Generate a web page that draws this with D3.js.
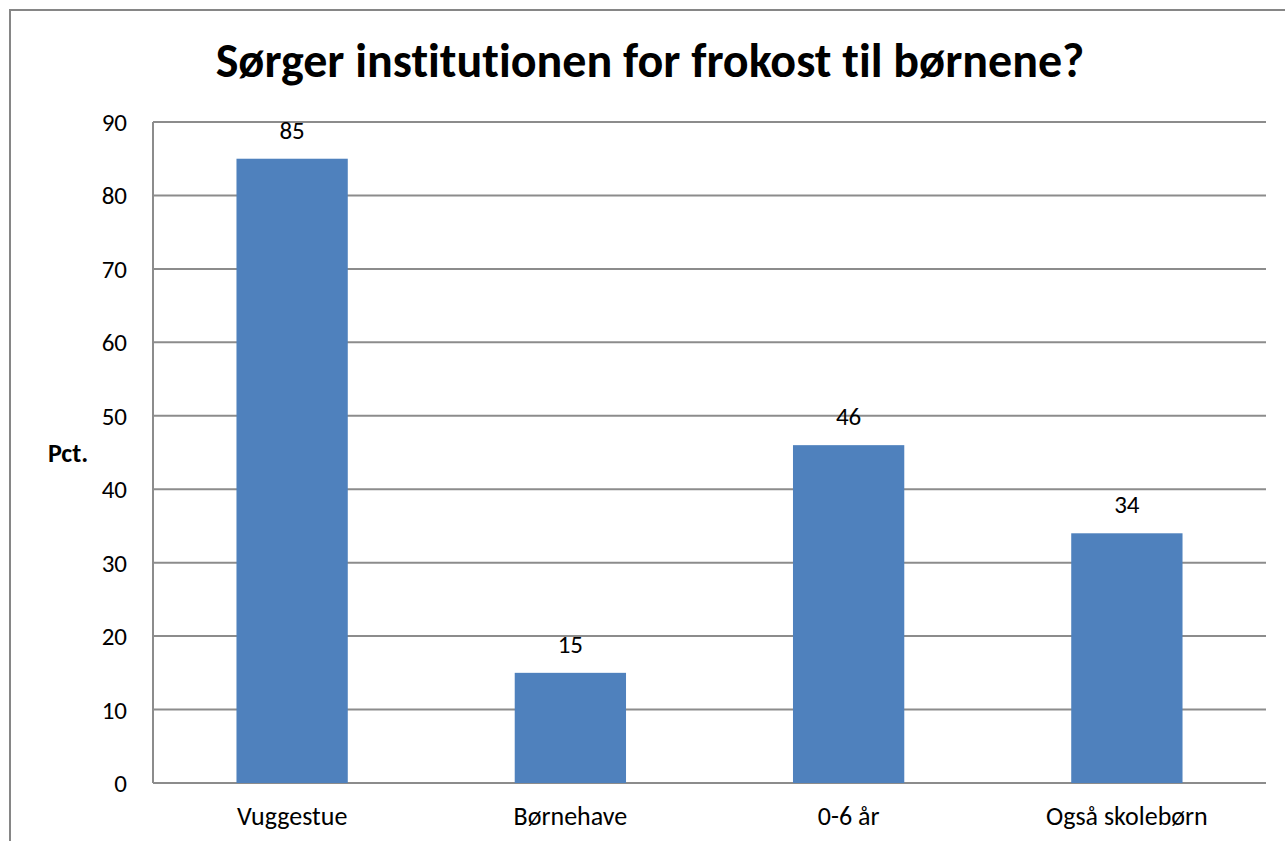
<!DOCTYPE html>
<html>
<head>
<meta charset="utf-8">
<script src="https://cdn.jsdelivr.net/npm/d3@7"></script>
<style>
  body { margin: 0; background: #fff; }
  text { font-family: Calibri, Carlito, Lato, "Noto Sans", sans-serif; fill: #000; font-variant-ligatures: none; }
</style>
</head>
<body>
<script>
// chart data
var categories = ['Vuggestue', 'Børnehave', '0-6 år', 'Også skolebørn'];
var values = [85, 15, 46, 34];
var yTicks = [0, 10, 20, 30, 40, 50, 60, 70, 80, 90];
var title = 'Sørger institutionen for frokost til børnene?';
var yLabel = 'Pct.';

var width = 1285,
	height = 841;

// plot area (window.top is reserved, so own names)
var plotLeft = 153, plotRight = 1266, plotTop = 122, plotBottom = 783;

var svg = d3.select('body')
	.append('svg')
	.attr('width', width)
	.attr('height', height);

// outer chart frame, cut off at right and bottom
svg.append('path')
	.attr('d', 'M10,' + height + 'V10H' + width)
	.attr('fill', 'none')
	.attr('stroke', '#868686')
	.attr('stroke-width', 2);

var x = d3.scaleBand()
	.domain(categories)
	.range([plotLeft, plotRight]);

var y = d3.scaleLinear()
	.domain([0, 90])
	.range([plotBottom, plotTop]);

// gridlines
svg.append('g')
	.selectAll('line')
	.data(yTicks)
	.enter().append('line')
	.attr('x1', plotLeft)
	.attr('x2', plotRight)
	.attr('y1', function(d) { return y(d); })
	.attr('y2', function(d) { return y(d); })
	.attr('stroke', '#8c8c8c')
	.attr('stroke-width', 2);

// bars, 40% of the band
var barW = x.bandwidth() * 0.4;
svg.append('g')
	.selectAll('rect')
	.data(values)
	.enter().append('rect')
	.attr('x', function(d, i) { return x(categories[i]) + (x.bandwidth() - barW) / 2; })
	.attr('y', function(d) { return y(d); })
	.attr('width', barW)
	.attr('height', function(d) { return plotBottom - y(d); })
	.attr('fill', '#4f81bd');

// y axis line
svg.append('line')
	.attr('x1', plotLeft).attr('x2', plotLeft)
	.attr('y1', plotTop).attr('y2', plotBottom)
	.attr('stroke', '#8c8c8c')
	.attr('stroke-width', 2);

// y tick labels
svg.append('g')
	.selectAll('text')
	.data(yTicks)
	.enter().append('text')
	.attr('x', 127)
	.attr('y', function(d) { return y(d) + 9; })
	.attr('text-anchor', 'end')
	.style('font-size', '25px')
	.text(function(d) { return d; });

// value labels
svg.append('g')
	.selectAll('text')
	.data(values)
	.enter().append('text')
	.attr('x', function(d, i) { return x(categories[i]) + x.bandwidth() / 2; })
	.attr('y', function(d) { return y(d) - 20; })
	.attr('text-anchor', 'middle')
	.style('font-size', '25px')
	.text(function(d) { return d; });

// category labels
svg.append('g')
	.selectAll('text')
	.data(categories)
	.enter().append('text')
	.attr('x', function(d) { return x(d) + x.bandwidth() / 2; })
	.attr('y', 825)
	.attr('text-anchor', 'middle')
	.style('font-size', '26px')
	.text(function(d) { return d; });

// axis title
svg.append('text')
	.attr('x', 48)
	.attr('y', 462)
	.style('font-size', '26px')
	.style('font-weight', 'bold')
	.text(yLabel);

// chart title
svg.append('text')
	.attr('x', 650)
	.attr('y', 77)
	.attr('text-anchor', 'middle')
	.style('font-size', '48px')
	.style('font-weight', 'bold')
	.text(title);
</script>
</body>
</html>
